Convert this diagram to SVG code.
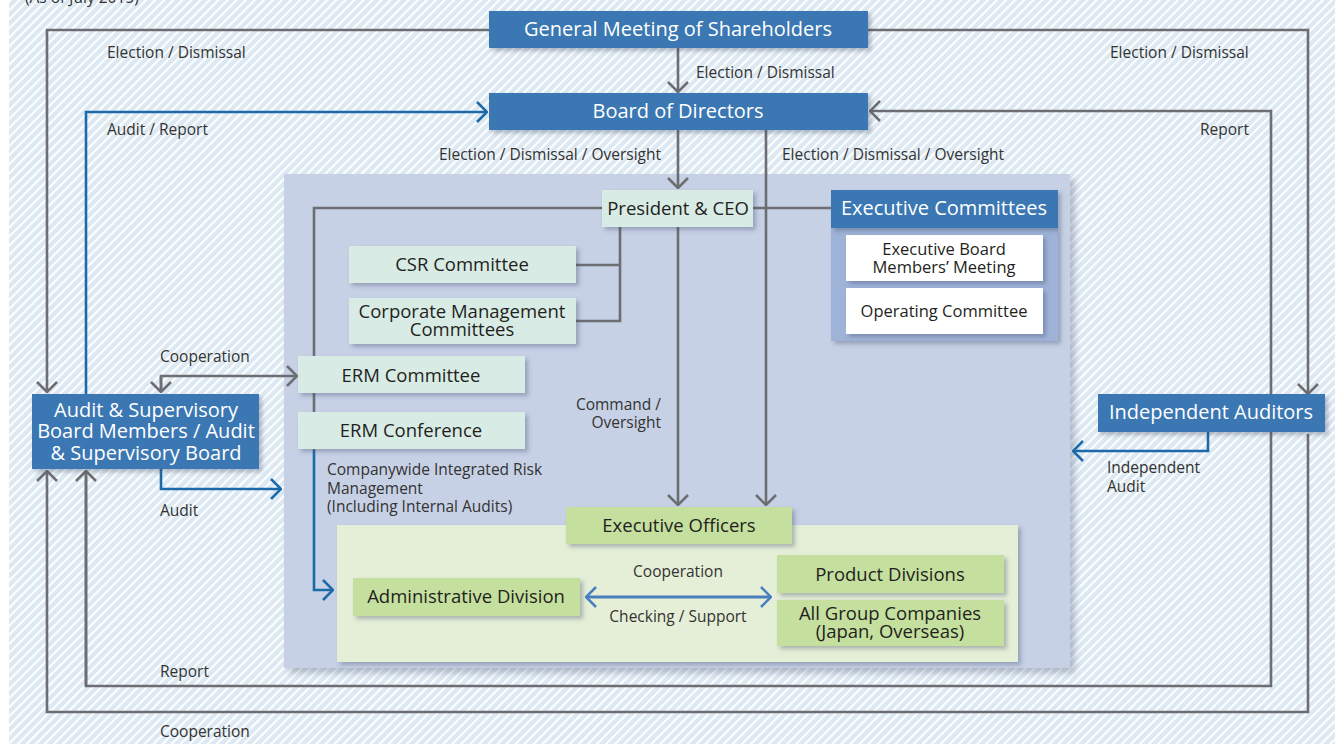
<svg xmlns="http://www.w3.org/2000/svg" width="1335" height="744" viewBox="0 0 1335 744">
  <defs>
    <pattern id="hatch" width="6.4" height="6.4" patternUnits="userSpaceOnUse" patternTransform="rotate(45)">
      <rect width="6.4" height="6.4" fill="#dde9f2"/>
      <rect width="2" height="6.4" fill="#ffffff"/>
    </pattern>
    <filter id="shadow" x="-10%" y="-20%" width="130%" height="160%">
      <feDropShadow dx="3" dy="3" stdDeviation="2" flood-color="#3a4a66" flood-opacity="0.35"/>
    </filter>
    <filter id="panelShadow" x="-5%" y="-5%" width="110%" height="110%">
      <feDropShadow dx="5" dy="5" stdDeviation="3" flood-color="#3a4a66" flood-opacity="0.3"/>
    </filter>
    <marker id="arrowGray" viewBox="0 0 12 22" refX="11" refY="11" markerWidth="12" markerHeight="22" markerUnits="userSpaceOnUse" orient="auto">
      <path d="M1,1 L11,11 L1,21" fill="none" stroke="#6d6e71" stroke-width="2.6"/>
    </marker>
    <marker id="arrowBlue" viewBox="0 0 12 22" refX="11" refY="11" markerWidth="12" markerHeight="22" markerUnits="userSpaceOnUse" orient="auto">
      <path d="M1,1 L11,11 L1,21" fill="none" stroke="#1d6aaa" stroke-width="2.6"/>
    </marker>
    <marker id="arrowBlueStart" viewBox="0 0 12 22" refX="11" refY="11" markerWidth="12" markerHeight="22" markerUnits="userSpaceOnUse" orient="auto-start-reverse">
      <path d="M1,1 L11,11 L1,21" fill="none" stroke="#4a7fbf" stroke-width="2.6"/>
    </marker>
    <marker id="arrowBlueEnd" viewBox="0 0 12 22" refX="11" refY="11" markerWidth="12" markerHeight="22" markerUnits="userSpaceOnUse" orient="auto">
      <path d="M1,1 L11,11 L1,21" fill="none" stroke="#4a7fbf" stroke-width="2.6"/>
    </marker>
  </defs>
  <style>
    text { font-family: "Open Sans", "Noto Sans", "Liberation Sans", sans-serif; }
    .lbl { font-size: 15.5px; fill: #333333; }
    .head { font-size: 20px; fill: #ffffff; text-anchor: middle; }
    .dark { font-size: 18.5px; fill: #231f20; text-anchor: middle; }
    .small { font-size: 16.5px; }
    .blue { fill: #3a77b3; filter: url(#shadow); }
    .mint { fill: #d8ece5; filter: url(#shadow); }
    .green { fill: #c5df9e; filter: url(#shadow); }
    .white { fill: #ffffff; filter: url(#shadow); }
    .gline { fill: none; stroke: #6d6e71; stroke-width: 2.6; }
    .bline { fill: none; stroke: #1d6aaa; stroke-width: 2.6; }
  </style>

  <!-- background -->
  <rect x="0" y="0" width="1335" height="744" fill="#ffffff"/>
  <rect x="9" y="0" width="1326" height="744" fill="url(#hatch)"/>
  <text x="25" y="3" class="lbl" font-size="16">(As of July 2015)</text>

  <!-- executive area panels -->
  <g id="executive-panel">
    <rect x="284" y="174" width="786" height="494" fill="#c6d1e5" filter="url(#panelShadow)"/>
    <rect x="337" y="525" width="681" height="137" fill="#e5efd7" filter="url(#shadow)"/>
  </g>

  <!-- connectors -->
  <g id="connectors">
    <!-- Election / Dismissal (outer) -->
    <path class="gline" d="M489,30 H47 V392" marker-end="url(#arrowGray)"/>
    <path class="gline" d="M868,30 H1308 V394" marker-end="url(#arrowGray)"/>
    <path class="gline" d="M678,48 V92" marker-end="url(#arrowGray)"/>
    <!-- Cooperation (outermost loop) -->
    <path class="gline" d="M1308,434 V712 H47 V471" marker-end="url(#arrowGray)"/>
    <!-- Report loop -->
    <path class="gline" d="M86,471 V686 H1271 V111 H870" marker-end="url(#arrowGray)"/>
    <path class="gline" d="M86,686 V471" marker-end="url(#arrowGray)"/>
    <!-- Audit / Report -->
    <path class="bline" d="M86,394 V112 H487" marker-end="url(#arrowBlue)"/>
    <!-- Board to President and Executive Officers -->
    <path class="gline" d="M678,130 V188" marker-end="url(#arrowGray)"/>
    <path class="gline" d="M766,130 V505" marker-end="url(#arrowGray)"/>
    <!-- President branches -->
    <path class="gline" d="M602,208 H314 V450"/>
    <path class="gline" d="M753,208 H831"/>
    <path class="gline" d="M620,227 V321 H576"/>
    <path class="gline" d="M620,265 H576"/>
    <path class="gline" d="M678,227 V505" marker-end="url(#arrowGray)"/>
    <!-- Cooperation with ERM -->
    <path class="gline" d="M161,392 V376 H297" marker-end="url(#arrowGray)"/>
    <path class="gline" d="M161,376 V392" marker-end="url(#arrowGray)"/>
    <!-- Audit -->
    <path class="bline" d="M161,469 V489 H281" marker-end="url(#arrowBlue)"/>
    <!-- Companywide risk management -->
    <path class="bline" d="M314,450 V590 H333" marker-end="url(#arrowBlue)"/>
    <!-- Independent Audit -->
    <path class="bline" d="M1208,432 V451 H1073" marker-end="url(#arrowBlue)"/>
    <!-- Cooperation / Checking / Support -->
    <path d="M586,597 H771" fill="none" stroke="#4a7fbf" stroke-width="3" marker-start="url(#arrowBlueStart)" marker-end="url(#arrowBlueEnd)"/>
  </g>

  <!-- connector labels -->
  <g id="labels">
    <text class="lbl" x="107" y="58">Election / Dismissal</text>
    <text class="lbl" x="1110" y="58">Election / Dismissal</text>
    <text class="lbl" x="696" y="78">Election / Dismissal</text>
    <text class="lbl" x="107" y="135">Audit / Report</text>
    <text class="lbl" x="1200" y="135">Report</text>
    <text class="lbl" x="661" y="160" text-anchor="end">Election / Dismissal / Oversight</text>
    <text class="lbl" x="782" y="160">Election / Dismissal / Oversight</text>
    <text class="lbl" x="160" y="362">Cooperation</text>
    <text class="lbl" text-anchor="end"><tspan x="661" y="410">Command /</tspan><tspan x="661" y="428">Oversight</tspan></text>
    <text class="lbl"><tspan x="327" y="475">Companywide Integrated Risk</tspan><tspan x="327" y="494">Management</tspan><tspan x="327" y="512">(Including Internal Audits)</tspan></text>
    <text class="lbl"><tspan x="1107" y="473">Independent</tspan><tspan x="1107" y="492">Audit</tspan></text>
    <text class="lbl" x="160" y="516">Audit</text>
    <text class="lbl" x="678" y="577" text-anchor="middle">Cooperation</text>
    <text class="lbl" x="678" y="622" text-anchor="middle">Checking / Support</text>
    <text class="lbl" x="160" y="677">Report</text>
    <text class="lbl" x="160" y="737">Cooperation</text>
  </g>

  <!-- nodes -->
  <g id="general-meeting">
    <rect class="blue" x="489" y="11" width="379" height="37"/>
    <text class="head" x="678" y="36">General Meeting of Shareholders</text>
  </g>
  <g id="board-of-directors">
    <rect class="blue" x="489" y="93" width="379" height="37"/>
    <text class="head" x="678" y="118">Board of Directors</text>
  </g>
  <g id="president-ceo">
    <rect class="mint" x="602" y="190" width="151" height="37"/>
    <text class="dark" x="678" y="215">President &amp; CEO</text>
  </g>
  <g id="csr-committee">
    <rect class="mint" x="349" y="246" width="227" height="37"/>
    <text class="dark" x="462" y="271">CSR Committee</text>
  </g>
  <g id="corporate-management-committees">
    <rect class="mint" x="349" y="298" width="227" height="46"/>
    <text class="dark"><tspan x="462" y="318">Corporate Management</tspan><tspan x="462" y="336">Committees</tspan></text>
  </g>
  <g id="erm-committee">
    <rect class="mint" x="298" y="356" width="227" height="37"/>
    <text class="dark" x="411" y="382">ERM Committee</text>
  </g>
  <g id="erm-conference">
    <rect class="mint" x="298" y="412" width="227" height="37"/>
    <text class="dark" x="411" y="437">ERM Conference</text>
  </g>
  <g id="executive-committees">
    <rect x="831" y="228" width="227" height="113" fill="#9fb3d8" filter="url(#shadow)"/>
    <rect class="blue" x="831" y="190" width="227" height="38"/>
    <text class="head" x="944" y="215">Executive Committees</text>
    <rect class="white" x="846" y="235" width="197" height="46"/>
    <text class="dark small"><tspan x="944" y="255">Executive Board</tspan><tspan x="944" y="273">Members’ Meeting</tspan></text>
    <rect class="white" x="846" y="288" width="197" height="46"/>
    <text class="dark small" x="944" y="317">Operating Committee</text>
  </g>
  <g id="audit-supervisory-board">
    <rect class="blue" x="32" y="394" width="227" height="75"/>
    <text class="head"><tspan x="146" y="417">Audit &amp; Supervisory</tspan><tspan x="146" y="438">Board Members / Audit</tspan><tspan x="146" y="460">&amp; Supervisory Board</tspan></text>
  </g>
  <g id="independent-auditors">
    <rect class="blue" x="1098" y="394" width="227" height="38"/>
    <text class="head" x="1211" y="419">Independent Auditors</text>
  </g>
  <g id="executive-officers">
    <rect class="green" x="566" y="507" width="226" height="37"/>
    <text class="dark" x="679" y="532">Executive Officers</text>
  </g>
  <g id="administrative-division">
    <rect class="green" x="353" y="578" width="227" height="38"/>
    <text class="dark" x="466" y="603">Administrative Division</text>
  </g>
  <g id="product-divisions">
    <rect class="green" x="777" y="555" width="227" height="38"/>
    <text class="dark" x="890" y="581">Product Divisions</text>
  </g>
  <g id="all-group-companies">
    <rect class="green" x="777" y="600" width="227" height="46"/>
    <text class="dark"><tspan x="890" y="620">All Group Companies</tspan><tspan x="890" y="638">(Japan, Overseas)</tspan></text>
  </g>
</svg>
